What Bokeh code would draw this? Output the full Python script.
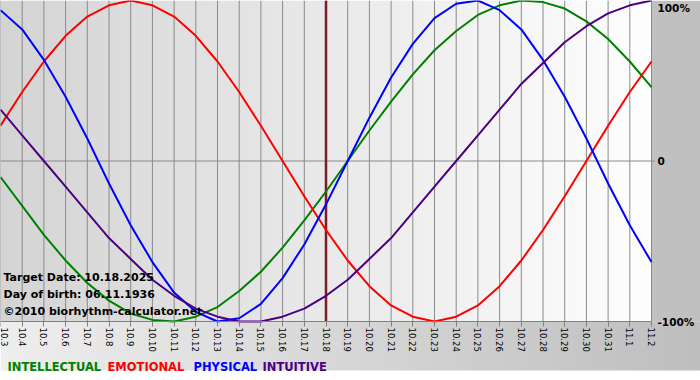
import math
import numpy as np
from bokeh.plotting import figure
from bokeh.models import Range1d, LinearAxis, FixedTicker, Label
from bokeh.embed import file_html
from bokeh.resources import INLINE

# ---- data ----
dates = ["10.3", "10.4", "10.5", "10.6", "10.7", "10.8", "10.9", "10.10", "10.11", "10.12",
         "10.13", "10.14", "10.15", "10.16", "10.17", "10.18", "10.19", "10.20", "10.21", "10.22",
         "10.23", "10.24", "10.25", "10.26", "10.27", "10.28", "10.29", "10.30", "10.31", "11.1", "11.2"]
target_date = "10.18"

intellectual = [-0.10, -0.28, -0.46, -0.62, -0.76, -0.87, -0.95, -0.99, -1.00, -0.97, -0.91, -0.81,
                -0.69, -0.54, -0.37, -0.19, 0.00, 0.19, 0.37, 0.54, 0.69, 0.81, 0.91, 0.97, 1.00,
                0.99, 0.95, 0.87, 0.76, 0.62, 0.46]
emotional = [0.22, 0.43, 0.62, 0.78, 0.90, 0.97, 1.00, 0.97, 0.90, 0.78, 0.62, 0.43, 0.22, 0.00,
             -0.22, -0.43, -0.62, -0.78, -0.90, -0.97, -1.00, -0.97, -0.90, -0.78, -0.62, -0.43,
             -0.22, 0.00, 0.22, 0.43, 0.62]
physical = [0.94, 0.82, 0.63, 0.40, 0.14, -0.14, -0.40, -0.63, -0.82, -0.94, -1.00, -0.98, -0.89,
            -0.73, -0.52, -0.27, 0.00, 0.27, 0.52, 0.73, 0.89, 0.98, 1.00, 0.94, 0.82, 0.63, 0.40,
            0.14, -0.14, -0.40, -0.63]
intuitive = [0.32, 0.16, 0.00, -0.16, -0.32, -0.48, -0.61, -0.74, -0.84, -0.92, -0.97, -1.00, -1.00,
             -0.97, -0.92, -0.84, -0.74, -0.61, -0.48, -0.32, -0.16, 0.00, 0.16, 0.32, 0.48, 0.61,
             0.74, 0.84, 0.92, 0.97, 1.00]

series_names = ["INTELLECTUAL", "EMOTIONAL", "PHYSICAL", "INTUITIVE"]
y_tick_labels = ["-100%", "0", "100%"]
info_lines = ["Target Date: 10.18.2025", "Day of birth: 06.11.1936", "\u00a92010 biorhythm-calculator.net"]

# ---- layout ----
W, H = 700, 380
DAY_PX = 21.7          # pixels per day
HALF_PX = 160.5        # pixels per unit of value
xs = list(range(len(dates)))
last = xs[-1]
xmax = W / DAY_PX
ymin = 1.0 - H / HALF_PX
def py(pix):           # pixel row -> value units
    return 1.0 - pix / HALF_PX
def px(pix):           # pixel column -> day units
    return pix / DAY_PX

p = figure(width=W, height=H, x_range=Range1d(0, xmax), y_range=Range1d(ymin, 1.0),
           x_axis_type=None, y_axis_type=None, output_backend="svg", toolbar_location=None,
           min_border=0, outline_line_color=None,
           background_fill_color="white", border_fill_color="white")

def hgrad(g0, g1, n=256):
    g = np.round(np.linspace(g0, g1, n)).astype(np.uint32)
    return ((np.uint32(255) << 24) | (g << 16) | (g << 8) | g).reshape(1, n)

# plot-area gradient
p.image_rgba(image=[hgrad(212, 254)], x=0, y=-1, dw=last, dh=2)
# right panel
p.quad(left=last, right=xmax, bottom=-1, top=1, fill_color="#c0c0c0", line_color=None)
# bottom panel gradient
p.image_rgba(image=[hgrad(238, 190)], x=0, y=py(370), dw=xmax, dh=py(321) - py(370))

# day grid lines
p.segment(x0=xs, y0=[-1] * len(xs), x1=xs, y1=[1] * len(xs), line_color="#8a8a8a", line_width=1)
# zero line
p.segment(x0=[0], y0=[0], x1=[last + px(3)], y1=[0], line_color="#8a8a8a", line_width=1)
# target line
ti = dates.index(target_date)
p.segment(x0=[ti], y0=[-1], x1=[ti], y1=[1], line_color="#7a1e1e", line_width=2.5)

colors = ["#008000", "#ff0000", "#0000ff", "#4b0082"]
for vals, c in zip([intellectual, emotional, physical, intuitive], colors):
    p.line(xs, vals, line_color=c, line_width=2, line_join="round")

# bottom axis
xaxis = LinearAxis(ticker=FixedTicker(ticks=xs),
                   major_label_overrides={i: d for i, d in zip(xs, dates)},
                   fixed_location=-1.0, bounds=(0, last),
                   axis_line_color="#808080", major_tick_line_color="#808080",
                   major_tick_out=5, major_tick_in=0, minor_tick_out=0, minor_tick_in=0,
                   major_label_orientation=-math.pi / 2, major_label_standoff=1,
                   major_label_text_font="DejaVu Sans", major_label_text_font_size="8.5px",
                   major_label_text_color="black")
p.add_layout(xaxis, "below")

# right axis
ypos = [-1.0, 0.0, py(7)]
yaxis = LinearAxis(ticker=FixedTicker(ticks=ypos),
                   major_label_overrides={v: t for v, t in zip(ypos, y_tick_labels)},
                   fixed_location=last, axis_line_color=None, major_tick_line_color=None,
                   major_tick_out=0, major_tick_in=0,
                   minor_tick_line_color=None, minor_tick_out=0, minor_tick_in=0,
                   major_label_standoff=6,
                   major_label_text_font="DejaVu Sans", major_label_text_font_style="bold",
                   major_label_text_font_size="10.5px", major_label_text_color="black")
p.add_layout(yaxis, "right")

# info texts
for line, base in zip(info_lines, [277, 294, 311]):
    p.add_layout(Label(x=px(3), y=py(base), text=line, text_font="DejaVu Sans",
                       text_font_style="bold", text_font_size="11px", text_color="black",
                       text_baseline="alphabetic"))

# legend texts
for name, c, xl in zip(series_names, colors, [7, 107, 193, 262]):
    p.add_layout(Label(x=px(xl), y=py(366), text=name, text_font="DejaVu Sans",
                       text_font_style="bold", text_font_size="11.5px", text_color=c,
                       text_baseline="alphabetic"))

html = file_html(p, INLINE)
html = html.replace("<head>", "<head>\n<style>html, body {margin:0; padding:0; overflow:hidden;}</style>", 1)
open("out.html", "w").write(html)
